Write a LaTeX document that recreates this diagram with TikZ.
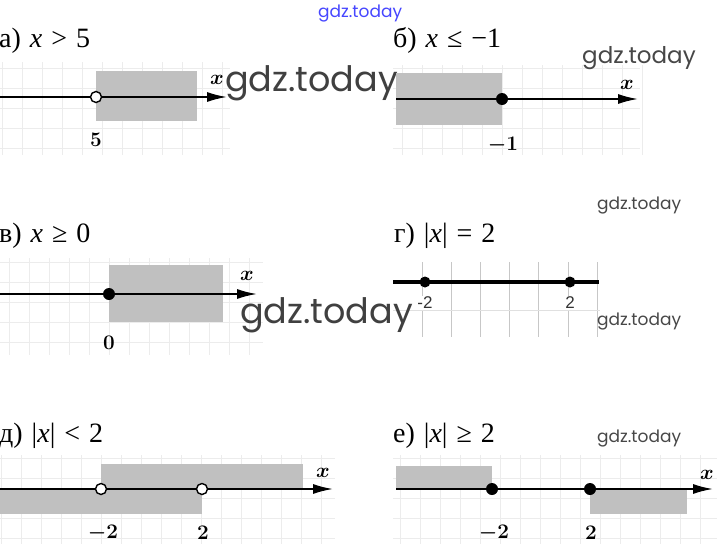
\documentclass[tikz,border=0pt]{standalone}
\usepackage{fontspec}
\usetikzlibrary{arrows.meta}
\newfontfamily\headfont{Liberation Serif}
\newfontfamily\wmfont{Poppins}
\newfontfamily\arialfont{Liberation Sans}
\definecolor{shadegray}{RGB}{192,192,192}
\definecolor{gridgray}{RGB}{236,236,236}
\definecolor{wmblue}{RGB}{70,70,255}
\newcommand\hgap{\hspace{0.32em}}
\tikzset{
  axis/.style={line width=1.8pt, -{Latex[length=20pt,width=10pt]}},
  thickaxis/.style={line width=3.6pt},
  shadebox/.style={fill=shadegray, draw=none},
  opendot/.style={circle, draw=black, line width=1.4pt, fill=white, inner sep=0pt, minimum size=11pt},
  fulldot/.style={circle, fill=black, inner sep=0pt, minimum size=12pt},
  ticklbl/.style={inner sep=0pt, font=\fontsize{20}{20}\selectfont\boldmath},
  axlbl/.style={inner sep=0pt, font=\fontsize{20}{20}\selectfont\boldmath},
  head/.style={inner sep=0pt, anchor=base west, font=\headfont\fontsize{28}{32}\selectfont},
  wmbig/.style={inner sep=0pt, anchor=base west, text=black!75, font=\wmfont\fontsize{35}{40}\selectfont},
  wmmid/.style={inner sep=0pt, anchor=base west, text=black!72, font=\wmfont\fontsize{23}{26}\selectfont},
  wmsmall/.style={inner sep=0pt, anchor=base west, text=black!72, font=\wmfont\fontsize{17}{20}\selectfont},
  gridln/.style={draw=gridgray, line width=0.6pt},
  ggrid/.style={draw=black!22, line width=1pt},
  sanslbl/.style={inner sep=1pt, fill=white, text=black!80, font=\arialfont\fontsize{17}{17}\selectfont}
}
\begin{document}
\begin{tikzpicture}[x=1pt,y=-1pt]
\path[use as bounding box, fill=white] (0,0) rectangle (717,544);

% ---------- faint grids ----------
\foreach \x in {2,22,...,222} \draw[gridln] (\x,62) -- (\x,155);
\foreach \y in {68,88,...,148} \draw[gridln] (0,\y) -- (230,\y);
\foreach \x in {402,422,...,642} \draw[gridln] (\x,65) -- (\x,155);
\foreach \y in {68,88,...,148} \draw[gridln] (393,\y) -- (640,\y);
\foreach \x in {9,29,...,249} \draw[gridln] (\x,258) -- (\x,355);
\foreach \y in {262,282,...,342} \draw[gridln] (0,\y) -- (263,\y);
\foreach \x in {1,21,...,321} \draw[gridln] (\x,455) -- (\x,544);
\foreach \y in {458,478,...,538} \draw[gridln] (0,\y) -- (335,\y);
\foreach \x in {400,420,...,710} \draw[gridln] (\x,455) -- (\x,544);
\foreach \y in {458,478,...,538} \draw[gridln] (393,\y) -- (717,\y);
% grid of panel g
\foreach \x in {422,451,480,509,538,568,597} \draw[ggrid] (\x,262) -- (\x,337);
\draw[draw=black!12, line width=1pt] (393,310) -- (600,310);

% ---------- watermarks ----------
\node[inner sep=0pt, anchor=base west, text=wmblue, font=\wmfont\fontsize{17}{20}\selectfont] (wm0) at (318,17) {gdz.today};
\node[wmbig] (wm1) at (225,91) {gdz.today};
\node[wmmid] (wm2) at (582,63) {gdz.today};
\node[wmsmall] (wm3) at (597,209) {gdz.today};
\node[wmbig] (wm4) at (240,323) {gdz.today};
\node[wmsmall] (wm5) at (597,325) {gdz.today};
\node[wmsmall] (wm6) at (597,442) {gdz.today};

% ---------- a) ----------
\node[head] (ha) at (-1,47) {а)\hgap\textit{x}\hgap>\hgap5};
\fill[shadebox] (96,71) rectangle (197,121);
\coordinate (a0) at (0,97);
\coordinate (a1) at (227,97);
\draw[axis] (a0) -- (a1);
\node[opendot] (a5) at (96,97) {};
\node[ticklbl] (la5) at (96,140) {$\mathbf{5}$};
\node[axlbl] (xa) at (217,80) {$x$};

% ---------- b) ----------
\node[head] (hb) at (393,47) {б)\hgap\textit{x}\hgap≤\hgap−1};
\fill[shadebox] (396,73) rectangle (502,125);
\coordinate (b0) at (396,99);
\coordinate (b1) at (638,99);
\draw[axis] (b0) -- (b1);
\node[fulldot] (bm1) at (502,99) {};
\node[ticklbl] (lbm1) at (503,145) {$-1$};
\node[axlbl] (xb) at (627,85) {$x$};

% ---------- v) ----------
\node[head] (hv) at (-1,242) {в)\hgap\textit{x}\hgap≥\hgap0};
\fill[shadebox] (109,265) rectangle (223,322);
\coordinate (v0) at (0,294);
\coordinate (v1) at (257,294);
\draw[axis] (v0) -- (v1);
\node[fulldot] (v00) at (109,294) {};
\node[ticklbl] (lv0) at (109,343) {$\mathbf{0}$};
\node[axlbl] (xv) at (247,276) {$x$};

% ---------- g) ----------
\node[head] (hg) at (394,242) {г)\hgap|\textit{x}|\hgap=\hgap2};
\coordinate (g0) at (393,282);
\coordinate (g1) at (599,282);
\draw[thickaxis] (g0) -- (g1);
\node[fulldot, minimum size=11pt] (gm2) at (425,282) {};
\node[fulldot, minimum size=11pt] (gp2) at (570,282) {};
\node[sanslbl] (lgm2) at (425,303) {-2};
\node[sanslbl] (lgp2) at (570,303) {2};

% ---------- d) ----------
\node[head] (hd) at (-1,442) {д)\hgap|\textit{x}|\hgap<\hgap2};
\fill[shadebox] (101,464) rectangle (303,489);
\fill[shadebox] (0,489) rectangle (202,514);
\coordinate (d0) at (0,489);
\coordinate (d1) at (333,489);
\draw[axis] (d0) -- (d1);
\node[opendot] (dm2) at (101,489) {};
\node[opendot] (dp2) at (202,489) {};
\node[ticklbl] (ldm2) at (103,533) {$-2$};
\node[ticklbl] (ldp2) at (203,533) {$\mathbf{2}$};
\node[axlbl] (xd) at (323,473) {$x$};

% ---------- e) ----------
\node[head] (he) at (393,442) {е)\hgap|\textit{x}|\hgap≥\hgap2};
\fill[shadebox] (396,466) rectangle (492,489);
\fill[shadebox] (590,489) rectangle (687,514);
\coordinate (e0) at (396,489);
\coordinate (e1) at (713,489);
\draw[axis] (e0) -- (e1);
\node[fulldot] (em2) at (492,489) {};
\node[fulldot] (ep2) at (590,489) {};
\node[ticklbl] (lem2) at (494,533) {$-2$};
\node[ticklbl] (lep2) at (591,533) {$\mathbf{2}$};
\node[axlbl] (xe) at (707,475) {$x$};
\end{tikzpicture}
\end{document}
